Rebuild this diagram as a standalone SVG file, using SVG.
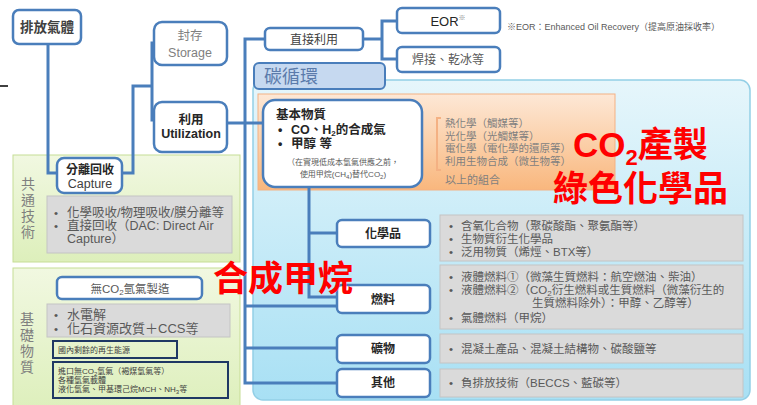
<svg xmlns="http://www.w3.org/2000/svg" width="757" height="405" viewBox="0 0 757 405">
<defs>
<linearGradient id="gGreen" x1="0" y1="0" x2="0" y2="1"><stop offset="0" stop-color="#f1f8e1"/><stop offset="1" stop-color="#ddefbb"/></linearGradient>
<linearGradient id="gBlue" x1="0" y1="0" x2="0" y2="1"><stop offset="0" stop-color="#e6f6fb"/><stop offset="1" stop-color="#a8e0f4"/></linearGradient>
<linearGradient id="gOrange" x1="0" y1="0" x2="0" y2="1"><stop offset="0" stop-color="#fde8d6"/><stop offset="1" stop-color="#f9b77d"/></linearGradient>
<style>
text{font-family:"Liberation Sans","Noto Sans CJK TC",sans-serif;}
.node{fill:#fff;stroke:#4a7ebb;stroke-width:2.5;}
.gray{fill:#dadada;stroke:#c4c4c4;stroke-width:1;}
.navy{fill:none;stroke:#1f3864;stroke-width:2;}
.conn{fill:none;stroke:#4a7ebb;stroke-width:3;}
.t{font-size:12px;fill:#595959;}
.b{font-size:12.5px;fill:#262626;font-weight:bold;}
.c{text-anchor:middle;}
.lst{font-size:11.5px;fill:#595959;}
.sm{font-size:8px;fill:#404040;}
.red{font-size:35px;fill:#ff0000;font-weight:bold;}
.vert{font-size:14px;fill:#7f7f7f;text-anchor:middle;}
.orl{font-size:10.5px;fill:#7f7f7f;}
.bm{font-size:12.5px;fill:#262626;font-weight:bold;}
</style>
</defs>
<rect width="757" height="405" fill="#fff"/>

<!-- background panels -->
<g id="panel-common">
<rect x="13" y="155" width="227" height="107" fill="url(#gGreen)" stroke="#c6dd95" stroke-width="1"/>
<text class="vert" x="28" y="189">共</text>
<text class="vert" x="28" y="205">通</text>
<text class="vert" x="28" y="221">技</text>
<text class="vert" x="28" y="237">術</text>
<rect class="gray" x="47" y="196" width="185" height="57"/>
<text class="lst" x="54" y="217">•</text>
<text class="lst" style="font-size:12.5px" x="67" y="217">化學吸收/物理吸收/膜分離等</text>
<text class="lst" x="54" y="230">•</text>
<text class="lst" style="font-size:12.5px" x="67" y="230">直接回收（DAC: Direct Air</text>
<text class="lst" style="font-size:12.5px" x="67" y="243">Capture）</text>
</g>

<g id="panel-basic">
<rect x="13" y="268" width="227" height="145" fill="url(#gGreen)" stroke="#c6dd95" stroke-width="1"/>
<text class="vert" x="27" y="324">基</text>
<text class="vert" x="27" y="340">礎</text>
<text class="vert" x="27" y="356">物</text>
<text class="vert" x="27" y="372">質</text>
<g id="h2free">
<rect class="node" x="57" y="277" width="145" height="22" rx="5"/>
<text class="t c" style="font-size:11.5px" x="130" y="293">無CO<tspan font-size="8" dy="2">2</tspan><tspan dy="-2">氫氣製造</tspan></text>
</g>
<rect class="gray" x="47" y="304" width="183" height="33"/>
<text class="lst" x="54" y="319">•</text>
<text class="lst" style="font-size:13px" x="67" y="319">水電解</text>
<text class="lst" x="54" y="333">•</text>
<text class="lst" style="font-size:13px" x="67" y="333">化石資源改質＋CCS等</text>
<rect class="navy" x="53" y="341" width="124" height="17"/>
<text class="sm" x="58" y="353">國內剩餘的再生能源</text>
<rect class="navy" x="53" y="362" width="175" height="36"/>
<text class="sm" x="58" y="374">進口無CO<tspan font-size="6" dy="1.5">2</tspan><tspan dy="-1.5">氫氣（褐煤氫氣等）</tspan></text>
<text class="sm" x="58" y="383">各種氫氣載體</text>
<text class="sm" x="58" y="392">液化氫氣、甲基環己烷MCH、NH<tspan font-size="6" dy="1.5">3</tspan><tspan dy="-1.5">等</tspan></text>
</g>

<g id="panel-carbon">
<rect x="253" y="80" width="497" height="320" rx="10" fill="url(#gBlue)" stroke="#93cfe6" stroke-width="1.5"/>
<rect x="258" y="94" width="357" height="96" fill="url(#gOrange)" stroke="#f4b183" stroke-width="1"/>
<path d="M441,118 L437,118 L437,170 L441,170" fill="none" stroke="#f4b183" stroke-width="2"/>
<text class="orl" x="445" y="127">熱化學（觸媒等）</text>
<text class="orl" x="445" y="140">光化學（光觸媒等）</text>
<text class="orl" x="445" y="152">電化學（電化學的還原等）</text>
<text class="orl" x="445" y="165">利用生物合成（微生物等）</text>
<text class="orl" style="font-size:11px" x="445" y="184">以上的組合</text>
</g>

<g id="tab-carbon">
<rect x="254" y="63" width="131" height="26" rx="5" fill="#c6d9f0" stroke="#4a7ebb" stroke-width="2"/>
<text x="264" y="83" style="font-size:18px;fill:#5b7bab">碳循環</text>
</g>

<!-- connectors -->
<g id="connectors">
<line x1="0" y1="86" x2="8" y2="86" stroke="#000" stroke-width="1.5"/>
<polyline class="conn" points="48,44 48,173 133,173 133,86 152,86"/>
<polyline class="conn" points="155,43 152,43 152,120 155,120"/>
<line class="conn" x1="227" y1="123" x2="263" y2="123"/>
<polyline class="conn" points="265,39 245,39 245,383 337,383"/>
<line class="conn" x1="245" y1="306" x2="337" y2="306"/>
<line class="conn" x1="245" y1="348" x2="337" y2="348"/>
<line class="conn" x1="363" y1="39" x2="382" y2="39"/>
<polyline class="conn" points="397,21 382,21 382,59 397,59"/>
<polyline class="conn" points="309,187 309,297 337,297"/>
<line class="conn" x1="309" y1="233" x2="337" y2="233"/>
</g>

<!-- nodes -->
<g id="emission">
<rect class="node" x="13" y="10" width="68" height="34" rx="6"/>
<text class="b c" style="font-size:13.5px;fill:#404040" x="47" y="32">排放氣體</text>
</g>
<g id="storage">
<rect class="node" x="154" y="22" width="73" height="43" rx="8"/>
<text class="t c" style="font-size:12.5px;fill:#808080" x="190" y="40">封存</text>
<text class="t c" style="font-size:12.5px;fill:#808080" x="190" y="57">Storage</text>
</g>
<g id="utilization">
<rect class="node" x="154" y="102" width="73" height="50" rx="8"/>
<text class="b c" x="191" y="124">利用</text>
<text class="b c" x="191" y="138">Utilization</text>
</g>
<g id="capture">
<rect class="node" x="57" y="158" width="65" height="35" rx="7"/>
<text class="b c" style="font-size:12px" x="90" y="174">分離回收</text>
<text class="t c" style="font-size:12.5px;fill:#404040" x="90" y="188">Capture</text>
</g>
<g id="direct-use">
<rect class="node" x="265" y="28" width="98" height="22" rx="5"/>
<text class="t c" style="fill:#404040" x="314" y="44">直接利用</text>
</g>
<g id="eor">
<rect class="node" x="397" y="8" width="103" height="25" rx="5"/>
<text class="c" style="font-size:13px;fill:#262626" x="448" y="26">EOR<tspan font-size="7" dy="-6" fill="#7f7f7f">※</tspan></text>
</g>
<text x="507" y="30" style="font-size:9px;fill:#595959">※EOR：Enhanced Oil Recovery（提高原油採收率）</text>
<g id="welding">
<rect class="node" x="397" y="47" width="103" height="25" rx="5"/>
<text class="t c" x="448" y="64">焊接、乾冰等</text>
</g>
<g id="basic-material">
<rect class="node" x="263" y="100" width="159" height="87" rx="12"/>
<text class="bm" x="276" y="119">基本物質</text>
<text class="bm" x="278" y="134">•</text>
<text class="bm" x="291" y="134">CO、H<tspan font-size="8" dy="2">2</tspan><tspan dy="-2">的合成氣</tspan></text>
<text class="bm" x="278" y="148">•</text>
<text class="bm" x="291" y="148">甲醇 等</text>
<text class="sm c" style="fill:#595959" x="343" y="165">（在實現低成本氫氣供應之前，</text>
<text class="sm c" style="fill:#595959" x="343" y="177">使用甲烷(CH<tspan font-size="6" dy="1.5">4</tspan><tspan dy="-1.5">)替代CO</tspan><tspan font-size="6" dy="1.5">2</tspan><tspan dy="-1.5">)</tspan></text>
</g>

<g id="chemicals">
<rect class="node" x="337" y="220" width="93" height="27" rx="5"/>
<text class="b c" style="font-size:12px" x="383" y="238">化學品</text>
<rect class="gray" x="440" y="215" width="303" height="46"/>
<text class="lst" x="449" y="230">•</text><text class="lst" x="461" y="230">含氧化合物（聚碳酸酯、聚氨酯等）</text>
<text class="lst" x="449" y="243">•</text><text class="lst" x="461" y="243">生物質衍生化學品</text>
<text class="lst" x="449" y="256">•</text><text class="lst" x="461" y="256">泛用物質（烯烴、BTX等）</text>
</g>
<g id="fuel">
<rect class="node" x="337" y="285" width="93" height="28" rx="5"/>
<text class="b c" style="font-size:12px" x="383" y="304">燃料</text>
<rect class="gray" x="440" y="265" width="303" height="64"/>
<text class="lst" x="449" y="281">•</text><text class="lst" x="461" y="281">液體燃料①（微藻生質燃料：航空燃油、柴油）</text>
<text class="lst" x="449" y="294">•</text><text class="lst" x="461" y="294">液體燃料②（CO<tspan font-size="8" dy="2">2</tspan><tspan dy="-2">衍生燃料或生質燃料（微藻衍生的</tspan></text>
<text class="lst" x="532" y="307">生質燃料除外）：甲醇、乙醇等）</text>
<text class="lst" x="449" y="322">•</text><text class="lst" x="461" y="322">氣體燃料（甲烷）</text>
</g>
<g id="minerals">
<rect class="node" x="337" y="335" width="93" height="28" rx="5"/>
<text class="b c" style="font-size:12px" x="383" y="353">礦物</text>
<rect class="gray" x="440" y="334" width="303" height="29"/>
<text class="lst" x="449" y="353">•</text><text class="lst" x="461" y="353">混凝土產品、混凝土結構物、碳酸鹽等</text>
</g>
<g id="others">
<rect class="node" x="337" y="369" width="93" height="28" rx="5"/>
<text class="b c" style="font-size:12px" x="383" y="387">其他</text>
<rect class="gray" x="440" y="369" width="303" height="28"/>
<text class="lst" x="449" y="387">•</text><text class="lst" x="461" y="387">負排放技術（BECCS、藍碳等）</text>
</g>

<!-- red annotations -->
<text class="red" x="573" y="157">CO<tspan font-size="22" dy="8">2</tspan><tspan dy="-8">產製</tspan></text>
<text class="red" x="553" y="201">綠色化學品</text>
<text class="red" x="213" y="291">合成甲烷</text>
</svg>
